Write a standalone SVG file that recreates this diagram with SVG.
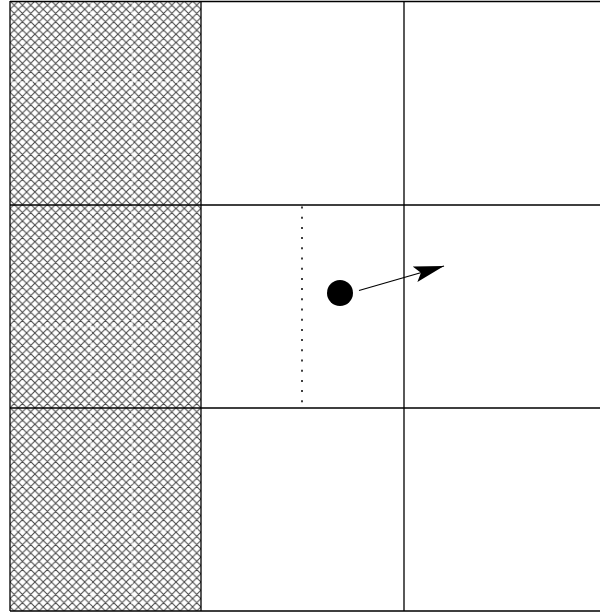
<svg xmlns="http://www.w3.org/2000/svg" width="600" height="614" viewBox="0 0 600 614">
<style>
.grid{stroke:#000;stroke-width:1.3;fill:none}
.sub{stroke:#fff;stroke-width:1;stroke-dasharray:3 2;fill:none}
.dot{stroke:#000;stroke-width:1.5;stroke-dasharray:2 8.2;fill:none}
</style>
<defs>
<pattern id="hatch" patternUnits="userSpaceOnUse" width="8.3" height="8.3" x="10" y="1">
<rect width="8.3" height="8.3" fill="#fff"/>
<path d="M0,0 L8.3,8.3 M8.3,0 L0,8.3 M-1,7.3 L1,9.3 M7.3,-1 L9.3,1 M-1,1 L1,-1 M7.3,9.3 L9.3,7.3" stroke="#444" stroke-width="1"/>
</pattern>
<marker id="arr" markerUnits="userSpaceOnUse" markerWidth="32" markerHeight="16" refX="30" refY="8" orient="auto">
<path d="M30,8 L0,0 L6,8 L0,16 Z" fill="#000"/>
</marker>
</defs>
<rect width="600" height="614" fill="#fff"/>
<g id="hatched-region">
<rect x="10" y="1" width="191" height="610" fill="url(#hatch)"/>
<path class="sub" d="M91,1 V611 M132,1 V611 M10,82 H201 M10,327 H201 M10,530 H201"/>
</g>
<g id="grid">
<path class="grid" d="M10,1.5 H600 M10,205 H600 M10,408 H600 M10,611 H600 M10,1 V611 M201,1 V611 M404,1 V611"/>
</g>
<g id="dotted-line">
<path class="dot" d="M302,206.5 V405"/>
</g>
<g id="particle">
<circle cx="340" cy="293" r="13" fill="#000"/>
</g>
<g id="connectors">
<line x1="359" y1="290.5" x2="444" y2="266" stroke="#000" stroke-width="1.3" marker-end="url(#arr)"/>
</g>
</svg>
